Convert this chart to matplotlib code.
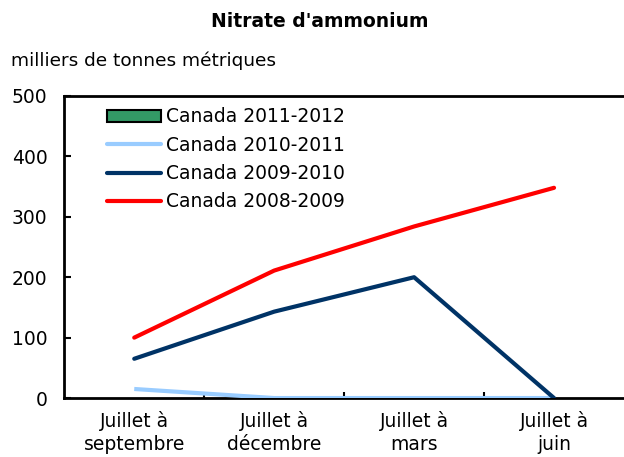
import matplotlib
matplotlib.use("Agg")
import matplotlib.pyplot as plt
from matplotlib.patches import Patch
from matplotlib.lines import Line2D

categories = ["Juillet à\nseptembre", "Juillet à\ndécembre", "Juillet à\nmars", "Juillet à\njuin"]
s_2010_2011 = [15, 0, 0, 0]
s_2009_2010 = [65, 143, 200, 0]
s_2008_2009 = [100, 211, 284, 348]
yticks = [0, 100, 200, 300, 400, 500]

plt.rcParams['font.family'] = ['DejaVu Sans']
fig = plt.figure(figsize=(6.24, 4.57), dpi=100)
ax = fig.add_axes([0.103, 0.129, 0.897, 0.661])

x = list(range(len(categories)))
ax.plot(x, s_2008_2009, color="#FF0000", lw=3, solid_capstyle="round", zorder=3)
ax.plot(x, s_2009_2010, color="#003366", lw=3, solid_capstyle="round", zorder=4)
ax.plot(x, s_2010_2011, color="#99CCFF", lw=3, solid_capstyle="butt", zorder=2)

fs = 13.5
ax.set_xlim(-0.5, 3.5)
ax.set_ylim(0, 500)
ax.set_yticks(yticks)
ax.set_yticklabels([str(v) for v in yticks], fontsize=fs)
ax.set_xticks(x)
ax.set_xticklabels(categories, fontsize=fs, linespacing=1.3)
ax.tick_params(axis='x', length=0, pad=9)
ax.set_xticks([0.5, 1.5, 2.5], minor=True)
ax.tick_params(axis='x', which='minor', direction='in', length=4, width=1.5)
ax.tick_params(axis='y', direction='in', length=5, width=1.5, pad=12)

ax.spines['right'].set_visible(False)
for s in ['left', 'bottom', 'top']:
    ax.spines[s].set_linewidth(2)
ax.spines['bottom'].set_zorder(1)

handles = [
    Patch(facecolor="#339966", edgecolor="black", linewidth=1.5),
    Line2D([], [], color="#99CCFF", lw=3, solid_capstyle="round"),
    Line2D([], [], color="#003366", lw=3, solid_capstyle="round"),
    Line2D([], [], color="#FF0000", lw=3, solid_capstyle="round"),
]
labels = ["Canada 2011-2012", "Canada 2010-2011", "Canada 2009-2010", "Canada 2008-2009"]
ax.legend(handles, labels, loc="upper left", bbox_to_anchor=(0.057, 1.0), frameon=False,
          fontsize=fs, handlelength=2.85, handletextpad=0.25, labelspacing=0.5,
          handleheight=0.6, borderaxespad=0.2)

fig.text(0.513, 0.952, "Nitrate d'ammonium", ha="center", va="center", fontsize=13.5, fontweight="bold")
fig.text(0.018, 0.866, "milliers de tonnes métriques", ha="left", va="center", fontsize=13.3)

fig.savefig("out.png", dpi=100)
